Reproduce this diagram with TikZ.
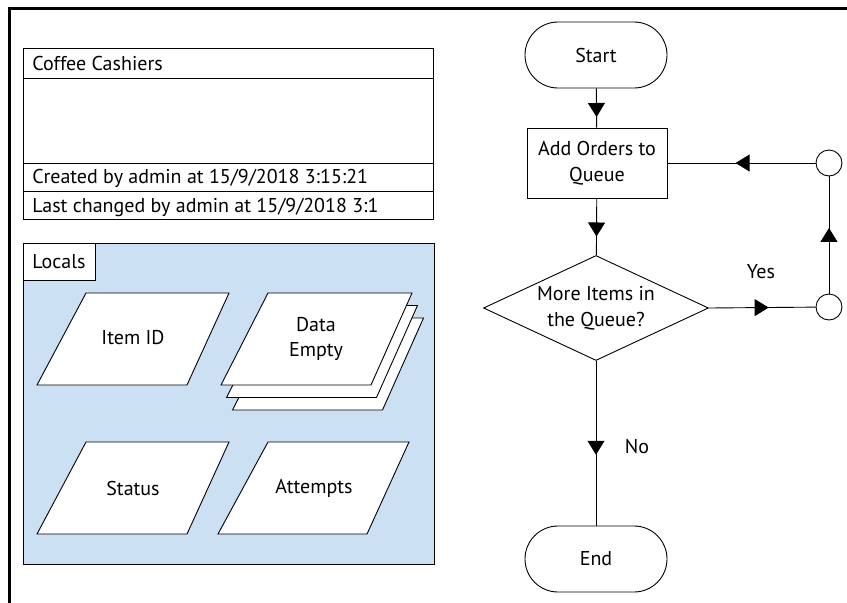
\documentclass[tikz,border=0pt]{standalone}
\usepackage{fontspec}
\setmainfont{PT Sans}
\usetikzlibrary{arrows.meta,decorations.markings,shapes.geometric,shapes.misc}
\definecolor{localsblue}{RGB}{204,224,244}
\tikzset{
  txt/.style={font=\fontsize{20}{25.5}\selectfont},
  para/.style={draw=black, fill=white, line width=0.9pt, line join=miter},
  terminal/.style={draw, rounded rectangle, minimum width=142pt, minimum height=66pt, inner sep=0pt, txt},
  procbox/.style={draw, rectangle, minimum width=140pt, minimum height=70pt, inner sep=0pt, align=center, txt},
  decision/.style={draw, diamond, aspect=2.14, minimum width=225pt, minimum height=105pt, inner sep=0pt, align=center, txt},
  junction/.style={draw, circle, minimum size=26pt, inner sep=0pt, fill=white},
  midarrow/.style={postaction={decorate}, decoration={markings, mark=at position #1 with {\arrow{Triangle[width=17pt,length=14pt]}}}},
}
\begin{document}
\begin{tikzpicture}[x=1pt, y=-1pt, line width=0.9pt]
\useasboundingbox (0,0) rectangle (847,603);
\fill[white] (0,0) rectangle (847,603);
% outer frame
\draw[line width=3pt] (9.5,603) -- (9.5,8.5) -- (847,8.5);

% info table
\draw (23,48) rectangle (433,219);
\draw (23,78) -- (433,78);
\draw (23,163) -- (433,163);
\draw (23,191) -- (433,191);
\node[txt, anchor=base west, inner sep=0pt] (title) at (32,70) {Coffee Cashiers};
\node[txt, anchor=base west, inner sep=0pt] (created) at (32,183) {Created by admin at 15/9/2018 3:15:21};
\node[txt, anchor=base west, inner sep=0pt] (changed) at (32,212) {Last changed by admin at 15/9/2018 3:1};

% locals panel
\draw[fill=localsblue] (23,243) rectangle (434,564);
\draw[fill=white] (23,243) rectangle (95,280);
\node[txt, anchor=base west, inner sep=0pt] (locals) at (32,268) {Locals};

% Item ID
\draw[para] (86,293) -- (229,293) -- (187,385) -- (37,385) -- cycle;
\node[txt] (itemid) at (133,338) {Item ID};
% Data Empty stack
\draw[para, shift={(11.5,25)}] (268,293) -- (412,293) -- (371,385) -- (221,385) -- cycle;
\draw[para, shift={(5.5,12.5)}] (268,293) -- (412,293) -- (371,385) -- (221,385) -- cycle;
\draw[para] (268,293) -- (412,293) -- (371,385) -- (221,385) -- cycle;
\node[txt, align=center] (dataempty) at (316,339) {Data\\Empty};
% Status
\draw[para] (86,442) -- (229,442) -- (187,534) -- (37,534) -- cycle;
\node[txt] (status) at (133,488) {Status};
% Attempts
\draw[para] (268,442) -- (409,442) -- (367,534) -- (218,534) -- cycle;
\node[txt] (attempts) at (314,488) {Attempts};

% flowchart
\node[terminal] (start) at (596,55) {Start};
\node[procbox] (box) at (597,163) {Add Orders to\\Queue};
\node[decision] (dec) at (596,308) {More Items in\\the Queue?};
\node[terminal] (end) at (596,559) {End};
\node[junction] (c1) at (829,163) {};
\node[junction] (c2) at (829,307) {};

\draw[midarrow=0.73] (start) -- (box);
\draw[midarrow=0.67] (box) -- (dec);
\draw[midarrow=0.56] (dec.east) -- (c2);
\draw[midarrow=0.56] (c2) -- (c1);
\draw[midarrow=0.54] (c1) -- (box.east);
\draw[midarrow=0.57] (dec) -- (end);

\node[txt] (yes) at (761,272) {Yes};
\node[txt] (no) at (637,447) {No};
\end{tikzpicture}
\end{document}
